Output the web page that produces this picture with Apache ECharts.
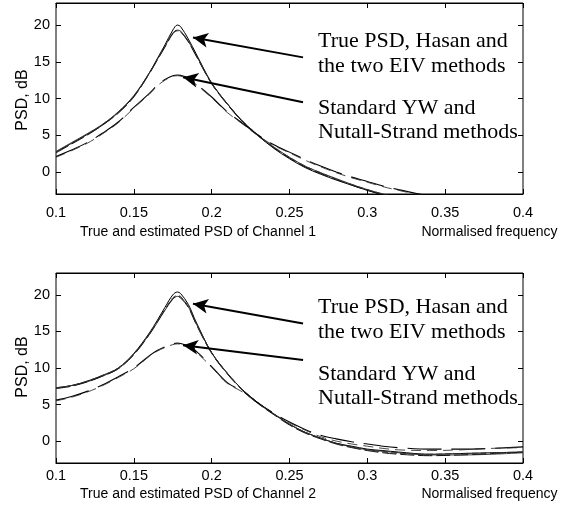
<!DOCTYPE html>
<html>
<head>
<meta charset="utf-8">
<script src="https://cdn.jsdelivr.net/npm/echarts@6/dist/echarts.min.js"></script>
<style>html,body{margin:0;padding:0;background:#fff;}#c{width:570px;height:516px;}</style>
</head>
<body>
<div id="c"></div>
<script>
// ---- data ----
const freq = [0.10,0.11,0.12,0.13,0.14,0.15,0.16,0.165,0.17,0.175,0.178,0.18,0.185,0.19,0.20,0.21,0.22,0.23,0.24,0.25,0.26,0.27,0.28,0.29,0.30,0.31,0.32,0.34,0.36,0.38,0.40];

// Channel 1
const ch1True  = [2.7,3.9,5.1,6.4,8.1,10.3,13.5,15.4,17.3,19.3,20.0,19.8,18.1,16.1,12.1,9.3,6.8,4.9,3.2,1.8,0.6,-0.3,-1.1,-1.8,-2.5,-3.1,-3.6,-4.5,-5.3,-6.0,-6.6];
const ch1Hasan = [2.8,4.0,5.2,6.5,8.2,10.4,13.5,15.3,17.1,18.9,19.3,19.2,17.8,15.9,12.1,9.3,6.9,5.0,3.4,2.0,0.8,-0.1,-0.9,-1.7,-2.4,-3.0,-3.5,-4.4,-5.2,-5.9,-6.5];
const ch1EIV1  = [2.6,3.8,5.0,6.4,8.0,10.2,13.4,15.2,17.0,18.8,19.3,19.1,17.7,15.8,12.0,9.2,6.8,4.9,3.3,1.9,0.7,-0.2,-1.0,-1.8,-2.5,-3.1,-3.6,-4.5,-5.3,-6.0,-6.6];
const ch1EIV2  = [2.7,3.9,5.1,6.5,8.1,10.3,13.4,15.3,17.1,18.9,19.2,19.1,17.8,15.9,12.0,9.3,6.9,5.0,3.3,2.0,0.8,-0.1,-1.0,-1.7,-2.4,-3.0,-3.5,-4.4,-5.2,-5.9,-6.5];
const ch1YW    = [2.1,3.0,4.0,5.3,6.8,8.8,10.7,11.8,12.6,13.1,13.2,13.15,12.8,12.0,10.2,8.2,6.6,5.0,3.7,2.7,1.7,0.8,0.0,-0.7,-1.3,-1.9,-2.4,-3.3,-4.0,-4.7,-5.3];
const ch1NS    = [2.0,2.9,3.9,5.2,6.7,8.7,10.6,11.7,12.5,13.0,13.1,13.05,12.7,11.9,10.1,8.1,6.5,4.9,3.6,2.6,1.6,0.7,-0.1,-0.8,-1.4,-2.0,-2.5,-3.4,-4.1,-4.8,-5.4];

// Channel 2
const ch2True  = [7.3,7.6,8.2,9.0,10.0,12.0,14.8,16.5,18.3,20.0,20.4,20.2,18.7,16.3,12.1,9.3,7.0,5.2,3.7,2.3,1.2,0.4,-0.3,-0.7,-1.1,-1.3,-1.5,-1.8,-1.7,-1.6,-1.5];
const ch2Hasan = [7.2,7.6,8.1,8.9,9.9,11.9,14.6,16.2,17.9,19.4,19.8,19.7,18.4,16.1,12.1,9.3,7.0,5.2,3.7,2.3,1.2,0.4,-0.3,-0.8,-1.2,-1.4,-1.6,-1.9,-1.9,-1.8,-1.6];
const ch2EIV1  = [7.2,7.5,8.1,8.9,9.9,11.8,14.6,16.3,18.0,19.5,19.8,19.6,18.3,16.0,12.0,9.2,6.9,5.1,3.6,2.2,1.1,0.3,-0.4,-0.9,-1.3,-1.6,-1.8,-2.0,-1.9,-1.7,-1.5];
const ch2EIV2  = [7.3,7.6,8.2,9.0,10.0,11.9,14.7,16.3,18.0,19.6,19.9,19.8,18.4,16.1,12.1,9.3,7.0,5.2,3.7,2.3,1.2,0.4,-0.3,-0.8,-1.2,-1.5,-1.7,-1.8,-1.7,-1.6,-1.5];
const ch2YW    = [5.6,6.1,6.8,7.7,8.8,10.0,11.7,12.4,12.9,13.3,13.4,13.35,13.0,12.3,10.2,8.0,6.8,5.2,3.8,2.6,1.6,0.8,0.3,-0.1,-0.4,-0.7,-0.9,-1.1,-1.1,-1.0,-0.8];
const ch2NS    = [5.5,6.0,6.7,7.6,8.7,9.9,11.6,12.3,12.8,13.2,13.3,13.25,12.9,12.2,10.1,7.9,6.7,5.1,3.7,2.5,1.5,0.6,0.0,-0.4,-0.7,-1.0,-1.2,-1.3,-1.2,-1.0,-0.9];

const xTickStep = 0.05;
const yTickStep = 5;
const xRange = [0.1, 0.4];
const yRange = [-3, 23];
const yTickRange = [0, 20];

const labelTop = ['True PSD, Hasan and', 'the two EIV methods'];
const labelBottom = ['Standard YW and', 'Nutall-Strand methods'];
const subTitles = ['True and estimated PSD of Channel 1', 'True and estimated PSD of Channel 2'];
const xName = 'Normalised frequency';
const yName = 'PSD, dB';

// arrows: [tail, tip] in data units (per panel)
const arrowsCh1 = [[[0.2587,15.6],[0.188,18.3]], [[0.2587,9.5],[0.1816,12.9]]];
const arrowsCh2 = [[[0.2587,16.1],[0.188,18.8]], [[0.2587,11.1],[0.1816,13.1]]];

// ---- chart ----
const chart = echarts.init(document.getElementById('c'), null, {renderer:'canvas'});
const SANS = "'Liberation Sans', Arial, Helvetica, sans-serif";
const SERIF = "'Liberation Serif', 'Times New Roman', serif";

const panels = [{top:3, height:191}, {top:273, height:190}];
const L = 56, R = 47;
const grids = [];
panels.forEach(p => grids.push({left:L, right:R, top:p.top, height:p.height, show:true,
  borderColor:'#000', borderWidth:1, backgroundColor:'transparent'}));
// tick grids: same vertical scale, spanning exactly the tick range
panels.forEach(p => {
  const ppu = p.height / (yRange[1]-yRange[0]);
  grids.push({left:L, right:R, top:p.top + (yRange[1]-yTickRange[1])*ppu,
    height:(yTickRange[1]-yTickRange[0])*ppu, show:false});
});
const labelMargins = [11, 5];

const tickStyle = {show:true, inside:true, length:5, lineStyle:{color:'#000', width:1}};
const xAxes = [], yAxes = [];
[0,1].forEach(g => {
  xAxes.push({type:'value', gridIndex:g, min:xRange[0], max:xRange[1], interval:xTickStep, position:'bottom',
    axisLine:{show:true, onZero:false, lineStyle:{color:'#000', width:1}},
    axisTick:tickStyle,
    axisLabel:{show:true, color:'#000', fontFamily:SANS, fontSize:14.5, margin:labelMargins[g]},
    splitLine:{show:false}});
  xAxes.push({type:'value', gridIndex:g, min:xRange[0], max:xRange[1], interval:xTickStep, position:'top',
    axisLine:{show:true, onZero:false, lineStyle:{color:'#000', width:1}},
    axisTick:tickStyle, axisLabel:{show:false}, splitLine:{show:false}});
});
[0,1].forEach(g => {
  xAxes.push({type:'value', gridIndex:2+g, min:xRange[0], max:xRange[1], show:false});
});
// data y axes (no ticks)
[0,1].forEach(g => {
  yAxes.push({type:'value', gridIndex:g, min:yRange[0], max:yRange[1],
    axisLine:{show:false}, axisTick:{show:false}, axisLabel:{show:false}, splitLine:{show:false}});
});
// tick y axes
[0,1].forEach(g => {
  yAxes.push({type:'value', gridIndex:2+g, min:yTickRange[0], max:yTickRange[1], interval:yTickStep, position:'left',
    axisLine:{show:false}, axisTick:tickStyle,
    axisLabel:{show:true, color:'#000', fontFamily:SANS, fontSize:14.5, margin:6},
    splitLine:{show:false}});
  yAxes.push({type:'value', gridIndex:2+g, min:yTickRange[0], max:yTickRange[1], interval:yTickStep, position:'right',
    axisLine:{show:false}, axisTick:tickStyle, axisLabel:{show:false}, splitLine:{show:false}});
});

function pairs(ys){ return freq.map((f,i)=>[f, ys[i]]); }
function mkSeries(g, name, ys, type, color, width){
  return {type:'line', name:name, xAxisIndex:g*2, yAxisIndex:g, data:pairs(ys),
    showSymbol:false, symbol:'none', smooth:0.35, clip:true, silent:true,
    lineStyle:{color:color, width:width, type:type}, z:3};
}
function arrowSeries(g, arrows){
  return {type:'line', xAxisIndex:g*2, yAxisIndex:g, data:[], silent:true,
    markLine:{silent:true, animation:false, symbol:['none','arrow'], symbolSize:[11,15],
      label:{show:false}, lineStyle:{color:'#000', width:2, type:'solid'},
      data: arrows.map(a => [{coord:a[0]},{coord:a[1]}])}};
}

const series = [];
[[ch1True,ch1Hasan,ch1EIV1,ch1EIV2,ch1YW,ch1NS,arrowsCh1],[ch2True,ch2Hasan,ch2EIV1,ch2EIV2,ch2YW,ch2NS,arrowsCh2]].forEach((d,g)=>{
  series.push(mkSeries(g,'True PSD',d[0],'solid','#000',1));
  series.push(mkSeries(g,'Hasan',d[1],'solid','#222',0.9));
  series.push(mkSeries(g,'EIV 1',d[2],[14,4],'#111',1));
  series.push(mkSeries(g,'EIV 2',d[3],[6,3],'#333',0.9));
  series.push(mkSeries(g,'Standard YW',d[4],[34,10],'#000',1.1));
  series.push(mkSeries(g,'Nutall-Strand',d[5],[10,6],'#333',0.9));
  series.push(arrowSeries(g,d[6]));
});

const graphics = [];
const panelOffsets = [0, 266];
const panelOffsets2 = [0, 262];
panelOffsets.forEach((off,g)=>{
  const tf = {fontFamily:SERIF, fontSize:22, fill:'#000', textAlign:'left', textVerticalAlign:'middle'};
  graphics.push({type:'text', x:318, y:41.5+off, style:Object.assign({text:labelTop[0]},tf)});
  graphics.push({type:'text', x:318, y:66.5+off, style:Object.assign({text:labelTop[1]},tf)});
  graphics.push({type:'text', x:318, y:108+off, style:Object.assign({text:labelBottom[0]},tf)});
  graphics.push({type:'text', x:318, y:132.5+off, style:Object.assign({text:labelBottom[1]},tf)});
  const off2 = panelOffsets2[g];
  const sf = {fontFamily:SANS, fontSize:14, fill:'#000', textAlign:'center', textVerticalAlign:'middle'};
  graphics.push({type:'text', x:198, y:232+off2, style:Object.assign({text:subTitles[g]},sf)});
  graphics.push({type:'text', x:489.5, y:232+off2, style:Object.assign({text:xName},sf)});
  graphics.push({type:'text', x:23, y:100 + (g?267:0), rotation:Math.PI/2,
    style:Object.assign({text:yName},sf, {fontSize:16})});
});

chart.setOption({
  animation:false,
  backgroundColor:'#fff',
  grid:grids, xAxis:xAxes, yAxis:yAxes, series:series, graphic:graphics
});
</script>
</body>
</html>
